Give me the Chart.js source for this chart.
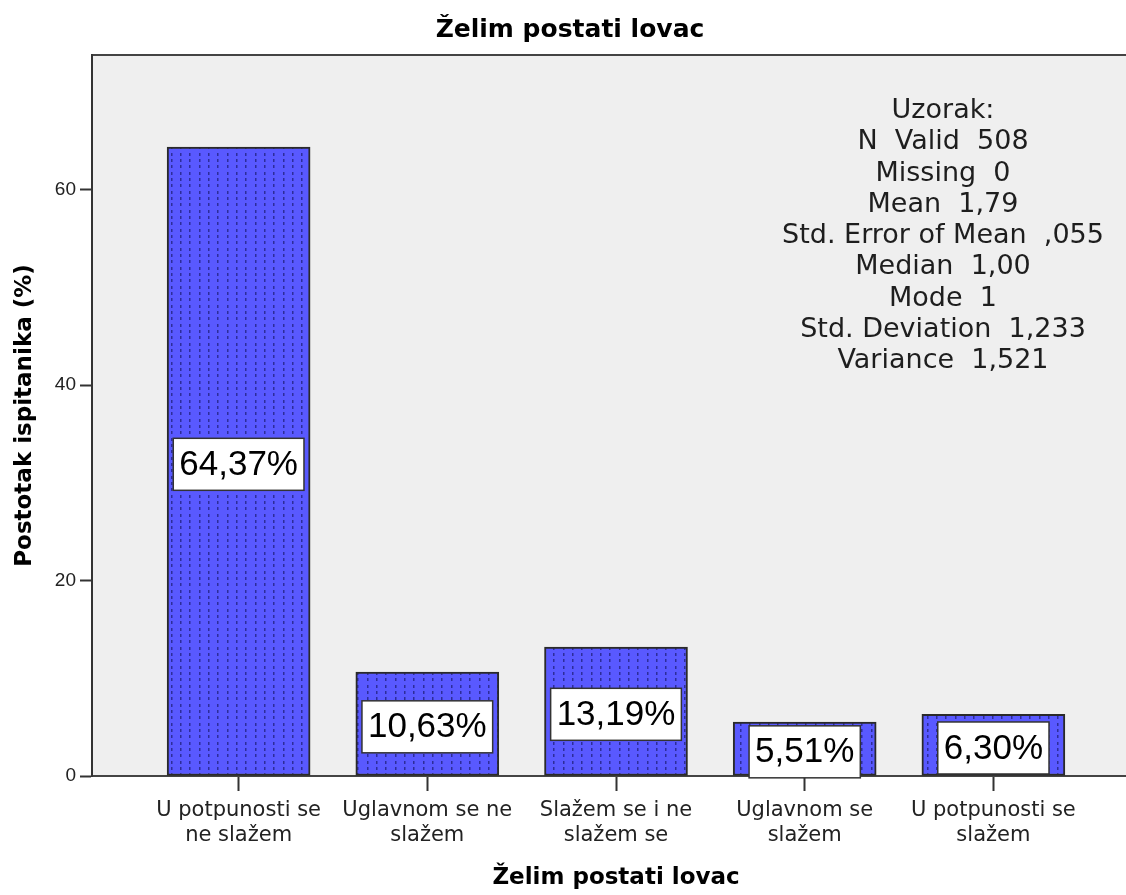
<!DOCTYPE html>
<html>
<head>
<meta charset="utf-8">
<title>Želim postati lovac</title>
<script src="https://cdn.jsdelivr.net/npm/chart.js@4/dist/chart.umd.min.js"></script>
<style>
  html, body { margin: 0; padding: 0; background: #fff; overflow: hidden; }
  #wrap { width: 1140px; height: 895px; }
</style>
</head>
<body>
<div id="wrap"><canvas id="lovacChart" width="1140" height="895"></canvas></div>
<script>
// answer categories (two-line tick labels) and share of respondents in %
const categories = [
    ['U potpunosti se', 'ne slažem'],
    ['Uglavnom se ne', 'slažem'],
    ['Slažem se i ne', 'slažem se'],
    ['Uglavnom se', 'slažem'],
    ['U potpunosti se', 'slažem']
];
const percentages = [64.37, 10.63, 13.19, 5.51, 6.30];
const yTicks = [0, 20, 40, 60];

const statLines = [
    'Uzorak:',
    'N  Valid  508',
    'Missing  0',
    'Mean  1,79',
    'Std. Error of Mean  ,055',
    'Median  1,00',
    'Mode  1',
    'Std. Deviation  1,233',
    'Variance  1,521'
];

const canvas = document.getElementById('lovacChart');
const ctx = canvas.getContext('2d');

// blue fill with small dark dots, like the SPSS bar pattern
function dotPattern() {
    const tile = document.createElement('canvas');
    tile.width = 28;
    tile.height = 19;
    const t = tile.getContext('2d');
    t.fillStyle = '#5959ff';
    t.fillRect(0, 0, 28, 19);
    t.fillStyle = '#2d2d9a';
    [3, 12, 21].forEach(x => {
        [1, 7, 13].forEach(y => t.fillRect(x, y, 1.5, 3));
    });
    return ctx.createPattern(tile, 'repeat');
}

function pct(v) {
    return v.toFixed(2).replace('.', ',') + '%';
}

const plotFrame = {
    id: 'plotFrame',
    beforeDraw(chart) {
        const a = chart.chartArea;
        const c = chart.ctx;
        c.save();
        c.fillStyle = '#efefef';
        c.fillRect(a.left, a.top, a.right - a.left, a.bottom - a.top);
        c.strokeStyle = '#444';
        c.lineWidth = 2;
        c.strokeRect(a.left, a.top, a.right - a.left, a.bottom - a.top);
        c.restore();
    }
};

const statsText = {
    id: 'statsText',
    afterDatasetsDraw(chart) {
        const a = chart.chartArea;
        const c = chart.ctx;
        c.save();
        c.font = '27px "DejaVu Sans"';
        c.fillStyle = '#1e1e1e';
        c.textAlign = 'center';
        c.textBaseline = 'middle';
        statLines.forEach((line, i) => {
            c.fillText(line, a.left + 851, a.top + 56 + i * 31.25);
        });
        c.restore();
    }
};

const valueBoxes = {
    id: 'valueBoxes',
    afterDraw(chart) {
        const c = chart.ctx;
        const meta = chart.getDatasetMeta(0);
        c.save();
        c.font = '35px "Liberation Sans", Arial';
        c.textAlign = 'center';
        c.textBaseline = 'middle';
        meta.data.forEach((bar, i) => {
            const text = pct(percentages[i]);
            const w = c.measureText(text).width + 12;
            const h = 52;
            const cy = (bar.y + bar.base) / 2 + 3;
            c.fillStyle = '#fff';
            c.fillRect(bar.x - w / 2, cy - h / 2, w, h);
            c.strokeStyle = '#333';
            c.lineWidth = 1.5;
            c.strokeRect(bar.x - w / 2, cy - h / 2, w, h);
            c.fillStyle = '#000';
            c.fillText(text, bar.x, cy + 1);
        });
        c.restore();
    }
};

new Chart(canvas, {
    type: 'bar',
    data: {
        datasets: [{
            data: percentages.map((v, i) => ({ x: i, y: v })),
            backgroundColor: dotPattern(),
            borderColor: '#2a2a2a',
            borderWidth: 2,
            borderSkipped: false,
            barThickness: 143
        }]
    },
    options: {
        responsive: false,
        devicePixelRatio: 1,
        animation: false,
        layout: { padding: 0 },
        plugins: {
            legend: { display: false },
            tooltip: { enabled: false },
            title: {
                display: true,
                text: 'Želim postati lovac',
                color: '#000',
                font: { family: 'DejaVu Sans', size: 25, weight: 'bold', lineHeight: 1.2 },
                padding: { top: 15, bottom: 10 }
            }
        },
        scales: {
            x: {
                type: 'linear',
                min: -0.777,
                max: 4.777,
                offset: false,
                afterFit(scale) { scale.height = 119; },
                afterBuildTicks(scale) {
                    scale.ticks = categories.map((_, i) => ({ value: i }));
                },
                ticks: {
                    autoSkip: false,
                    maxRotation: 0,
                    padding: 7,
                    color: '#222',
                    font: { family: 'DejaVu Sans', size: 21, lineHeight: 1.19 },
                    callback: v => categories[v]
                },
                grid: {
                    offset: false,
                    drawOnChartArea: false,
                    drawTicks: true,
                    tickLength: 15,
                    tickWidth: 2,
                    tickColor: '#333'
                },
                border: { display: true, color: '#444', width: 2 },
                title: {
                    display: true,
                    text: 'Želim postati lovac',
                    color: '#000',
                    font: { family: 'DejaVu Sans', size: 23, weight: 'bold', lineHeight: 1.2 },
                    padding: { top: 0, bottom: 3 }
                }
            },
            y: {
                min: 0,
                max: 73.8,
                afterFit(scale) { scale.width = 92; },
                afterBuildTicks(scale) {
                    scale.ticks = yTicks.map(v => ({ value: v }));
                },
                ticks: {
                    padding: 4,
                    color: '#222',
                    font: { family: 'Liberation Sans', size: 19 }
                },
                grid: {
                    drawOnChartArea: false,
                    drawTicks: true,
                    tickLength: 12,
                    tickWidth: 2,
                    tickColor: '#333'
                },
                border: { display: true, color: '#333', width: 2 },
                title: {
                    display: true,
                    text: 'Postotak ispitanika (%)',
                    color: '#000',
                    font: { family: 'DejaVu Sans', size: 23, weight: 'bold', lineHeight: 1.2 },
                    padding: { top: 11, bottom: 0 }
                }
            }
        }
    },
    plugins: [plotFrame, statsText, valueBoxes]
});
</script>
</body>
</html>
